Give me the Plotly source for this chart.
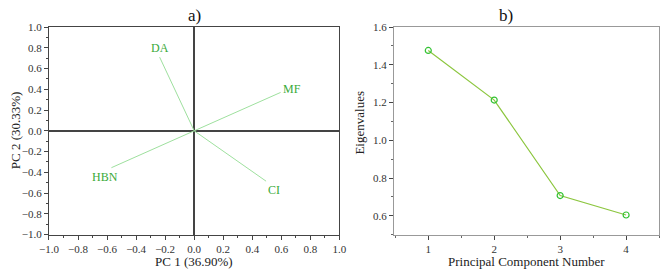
import plotly.graph_objects as go

# Data
variables = ["DA", "MF", "HBN", "CI"]
pc1_loadings = [-0.238, 0.595, -0.57, 0.495]
pc2_loadings = [0.71, 0.37, -0.355, -0.485]

components = [1, 2, 3, 4]
eigenvalues = [1.476, 1.213, 0.707, 0.604]

FONT = "Liberation Serif"
LABEL_GREEN = "#3aaa3a"
LOAD_GREEN = "#9ee09e"

fig = go.Figure()

# Loadings lines
for v, x, y in zip(variables, pc1_loadings, pc2_loadings):
    fig.add_trace(go.Scatter(x=[0, x], y=[0, y], mode="lines",
                             line=dict(color=LOAD_GREEN, width=1),
                             xaxis="x", yaxis="y", showlegend=False, hoverinfo="skip"))

# label placement styles
label_style = {
    "DA": dict(xanchor="center", yanchor="bottom", xshift=0, yshift=0),
    "MF": dict(xanchor="left", yanchor="middle", xshift=0, yshift=3),
    "HBN": dict(xanchor="center", yanchor="top", xshift=-6, yshift=0),
    "CI": dict(xanchor="left", yanchor="top", xshift=0, yshift=0),
}
for v, x, y in zip(variables, pc1_loadings, pc2_loadings):
    fig.add_annotation(x=x, y=y, xref="x", yref="y", text=v, showarrow=False,
                       font=dict(family=FONT, size=12, color=LABEL_GREEN),
                       **label_style[v])

# Scree plot
fig.add_trace(go.Scatter(x=components, y=eigenvalues, mode="lines+markers",
                         line=dict(color="#8cc63f", width=1.2),
                         marker=dict(symbol="circle-open", size=6, color="#33c233",
                                     line=dict(width=1.2)),
                         xaxis="x2", yaxis="y2", showlegend=False))

tickfont = dict(family=FONT, size=11, color="#333")
axcommon = dict(showgrid=False, ticks="outside", ticklen=4, tickwidth=1,
                tickcolor="#444", tickfont=tickfont, showline=True)

fig.update_layout(
    width=669, height=276,
    margin=dict(l=0, r=0, t=0, b=0),
    paper_bgcolor="white", plot_bgcolor="white",
    font=dict(family=FONT, color="#222"),
    xaxis=dict(domain=[40/669, 338/669], range=[-1, 1], dtick=0.2, tick0=-1,
               tickformat=".1f", zeroline=True, zerolinecolor="#444", zerolinewidth=1.6,
               linecolor="#444", linewidth=1.2, mirror=True, anchor="y",
               minor=dict(dtick=0.1, ticks="outside", ticklen=2, tickcolor="#444"),
               **axcommon),
    yaxis=dict(domain=[1-239/276, 1-22/276], range=[-1, 1], dtick=0.2, tick0=-1,
               tickformat=".1f", zeroline=True, zerolinecolor="#444", zerolinewidth=1.6,
               linecolor="#444", linewidth=1.2, mirror=True, anchor="x",
               minor=dict(dtick=0.1, ticks="outside", ticklen=2, tickcolor="#444"),
               **axcommon),
    xaxis2=dict(domain=[394/669, 666/669], range=[0.48, 4.5], tickvals=components,
                zeroline=False, linecolor="#999", linewidth=1, mirror=True, anchor="y2",
                minor=dict(dtick=0.5, tick0=0.5, ticks="outside", ticklen=2, tickcolor="#666"),
                **axcommon),
    yaxis2=dict(domain=[1-239/276, 1-22/276], range=[0.5, 1.6], dtick=0.2, tick0=0.6,
                tickformat=".1f", zeroline=False, linecolor="#999", linewidth=1,
                mirror=True, anchor="x2",
                minor=dict(dtick=0.1, ticks="outside", ticklen=2, tickcolor="#666"),
                **axcommon),
)

title_font = dict(family=FONT, size=17, color="#111")
axis_title_font = dict(family=FONT, size=13, color="#222")
annots = [
    dict(x=189, y=10, text="a)", font=title_font),
    dict(x=509, y=10, text="b)", font=title_font),
    dict(x=189, y=267, text="PC 1 (36.90%)", font=axis_title_font),
    dict(x=530, y=267, text="Principal Component Number", font=axis_title_font),
    dict(x=6, y=130, text="PC 2 (30.33%)", font=axis_title_font, textangle=-90),
    dict(x=359, y=122, text="Eigenvalues", font=axis_title_font, textangle=-90),
]
for a in annots:
    fig.add_annotation(x=a["x"]/669, y=1-a["y"]/276, xref="paper", yref="paper",
                       text=a["text"], showarrow=False, font=a["font"],
                       textangle=a.get("textangle", 0), xanchor="center", yanchor="middle")

fig.write_html("out.html")
